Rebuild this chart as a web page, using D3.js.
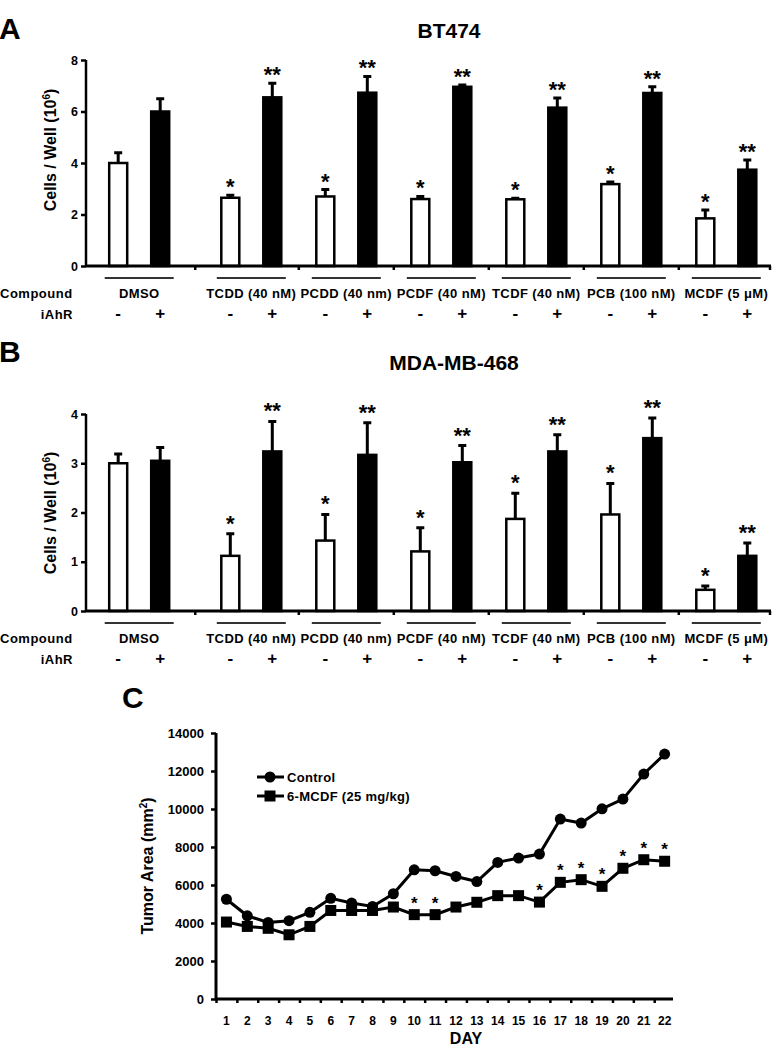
<!DOCTYPE html>
<html><head><meta charset="utf-8">
<script src="https://cdn.jsdelivr.net/npm/d3@7"></script>
<style>
body{margin:0;background:#fff}
svg{display:block}
text{font-family:"Liberation Sans",Arial,Helvetica,sans-serif;font-weight:bold;fill:#000}
</style>
</head><body>
<svg id="c" width="776" height="1050"></svg>
<script>
// ---------- data ----------
const compounds = ["DMSO","TCDD (40 nM)","PCDD (40 nm)","PCDF (40 nM)","TCDF (40 nM)","PCB (100 nM)","MCDF (5 \u03BCM)"];
const iahrLabels = ["-","+"];

const bt474Minus    = [4.00,2.65,2.70,2.60,2.59,3.18,1.85];
const bt474MinusErr = [0.40,0.10,0.27,0.10,0.04,0.08,0.32];
const bt474Plus     = [6.00,6.55,6.73,6.96,6.15,6.72,3.74];
const bt474PlusErr  = [0.50,0.55,0.63,0.07,0.37,0.24,0.38];
const bt474MinusSig = ["","*","*","*","*","*","*"];
const bt474PlusSig  = ["","**","**","**","**","**","**"];
const bt474Ticks    = [0,2,4,6,8];

const mdaMinus    = [3.00,1.12,1.43,1.21,1.87,1.96,0.43];
const mdaMinusErr = [0.19,0.45,0.53,0.48,0.52,0.63,0.08];
const mdaPlus     = [3.05,3.24,3.17,3.02,3.24,3.51,1.12];
const mdaPlusErr  = [0.27,0.61,0.65,0.34,0.34,0.41,0.26];
const mdaMinusSig = ["","*","*","*","*","*","*"];
const mdaPlusSig  = ["","**","**","**","**","**","**"];
const mdaTicks    = [0,1,2,3,4];

const days        = [1,2,3,4,5,6,7,8,9,10,11,12,13,14,15,16,17,18,19,20,21,22];
const controlArea = [5250,4380,4030,4120,4560,5300,5050,4870,5540,6800,6750,6450,6180,7190,7420,7630,9470,9260,10010,10520,11840,12890];
const mcdfArea    = [4050,3820,3720,3380,3820,4660,4660,4660,4840,4440,4440,4840,5090,5440,5440,5100,6140,6280,5930,6880,7330,7250];
const mcdfSig     = ["","","","","","","","","","*","*","","","","","*","*","*","*","*","*","*"];
const areaTicks   = [0,2000,4000,6000,8000,10000,12000,14000];
const seriesNames = ["Control","6-MCDF (25 mg/kg)"];

// ---------- drawing ----------
const svg = d3.select("#c");
svg.append("rect").attr("width",776).attr("height",1050).attr("fill","#fff");

// group slot: control group separated by an extra gap
const slot = i => i + (i > 0 ? 0.18 : 0);
const xg = d3.scaleLinear().domain([-0.56, 6.64]).range([86, 770]);
const pairOff = 21, barW = 18;

function barPanel(o){
  const g = svg.append("g");
  const y = d3.scaleLinear().domain([0, o.yMax]).range([o.y0, o.yTop]);
  // letter + title
  g.append("text").attr("x", -1).attr("y", o.letterY).attr("font-size", 30).text(o.letter);
  g.append("text").attr("x", o.titleX).attr("y", o.titleY).attr("text-anchor","middle")
    .attr("font-size", 21).text(o.title);
  // y label
  const yl = g.append("text").attr("transform", `translate(56,${o.labelMid}) rotate(-90)`)
    .attr("text-anchor","middle").attr("font-size", 16);
  yl.append("tspan").text("Cells / Well (10");
  yl.append("tspan").attr("font-size", 10).attr("dy", -6).text("6");
  yl.append("tspan").attr("dy", 6).text(")");
  // y axis
  const ya = g.append("g").attr("transform","translate(86,0)")
    .call(d3.axisLeft(y).tickValues(o.ticks).tickSize(5).tickPadding(3).tickFormat(d3.format("d")));
  ya.attr("font-family", null);
  ya.select(".domain").attr("stroke-width", 2.5).attr("d", `M0,${o.y0}V${o.yTop}`);
  ya.selectAll(".tick line").attr("stroke-width", 2.5);
  ya.selectAll(".tick text").attr("font-size", 12.5);

  // bars
  const sides = [
    {vals:o.minus, err:o.minusErr, sig:o.minusSig, off:-pairOff, fill:"#fff"},
    {vals:o.plus,  err:o.plusErr,  sig:o.plusSig,  off: pairOff, fill:"#000"}
  ];
  sides.forEach(s => {
    const cx = i => xg(slot(i)) + s.off;
    g.selectAll(null).data(s.vals).join("rect")
      .attr("x", (d,i) => cx(i) - barW/2).attr("width", barW)
      .attr("y", d => y(d)).attr("height", d => o.y0 - y(d))
      .attr("fill", s.fill).attr("stroke","#000").attr("stroke-width", 2.5);
    // error bars
    g.selectAll(null).data(s.vals).join("path")
      .attr("d", (d,i) => `M${cx(i)},${y(d)}V${y(d + s.err[i])}M${cx(i)-4},${y(d + s.err[i])}H${cx(i)+4}`)
      .attr("stroke","#000").attr("stroke-width", 3).attr("fill","none");
    // significance
    g.selectAll(null).data(s.vals).join("text")
      .attr("x", (d,i) => cx(i)).attr("y", (d,i) => y(d + s.err[i]) - o.starGap)
      .attr("text-anchor","middle").attr("font-size", 22)
      .text((d,i) => s.sig[i]);
    // iAhR signs
    g.selectAll(null).data(s.vals).join("text")
      .attr("x", (d,i) => cx(i)).attr("y", o.y0 + 53).attr("text-anchor","middle")
      .attr("font-size", 17).text(s.off < 0 ? iahrLabels[0] : iahrLabels[1]);
  });

  // x axis
  const bounds = d3.range(compounds.length - 1).map(i => (slot(i) + slot(i+1)) / 2);
  g.append("line").attr("x1", 86).attr("x2", 771).attr("y1", o.y0).attr("y2", o.y0)
    .attr("stroke","#000").attr("stroke-width", 3);
  g.selectAll(null).data(bounds).join("line")
    .attr("x1", d => xg(d)).attr("x2", d => xg(d)).attr("y1", o.y0).attr("y2", o.y0 + 4)
    .attr("stroke","#000").attr("stroke-width", 2.5);
  g.append("line").attr("x1", 770).attr("x2", 770).attr("y1", o.y0).attr("y2", o.y0 + 4)
    .attr("stroke","#000").attr("stroke-width", 2.5);

  // group underlines + labels
  g.selectAll(null).data(compounds).join("line")
    .attr("x1", (d,i) => xg(slot(i)) - 34.5).attr("x2", (d,i) => xg(slot(i)) + 34.5)
    .attr("y1", o.y0 + 12).attr("y2", o.y0 + 12).attr("stroke","#333").attr("stroke-width", 2);
  g.selectAll(null).data(compounds).join("text")
    .attr("x", (d,i) => xg(slot(i))).attr("y", o.y0 + 32).attr("text-anchor","middle")
    .attr("font-size", 13).attr("letter-spacing", 0.4).text(d => d);
  g.append("text").attr("x", 0).attr("y", o.y0 + 32).attr("font-size", 13)
    .attr("letter-spacing", 0.5).text("Compound");
  g.append("text").attr("x", 73).attr("y", o.y0 + 53).attr("text-anchor","end")
    .attr("font-size", 13).attr("letter-spacing", 0.5).text("iAhR");
}

barPanel({letter:"A", letterY:39, title:"BT474", titleX:449, titleY:38,
  y0:266, yTop:60, yMax:8, ticks:bt474Ticks, labelMid:150,
  minus:bt474Minus, minusErr:bt474MinusErr, plus:bt474Plus, plusErr:bt474PlusErr,
  minusSig:bt474MinusSig, plusSig:bt474PlusSig, starGap:1});

barPanel({letter:"B", letterY:362, title:"MDA-MB-468", titleX:454, titleY:370,
  y0:611, yTop:414, yMax:4, ticks:mdaTicks, labelMid:513,
  minus:mdaMinus, minusErr:mdaMinusErr, plus:mdaPlus, plusErr:mdaPlusErr,
  minusSig:mdaMinusSig, plusSig:mdaPlusSig, starGap:3});

// ---------- panel C ----------
(function(){
  const g = svg.append("g");
  const x = d3.scaleLinear().domain([0.5, 22.4]).range([216, 673]);
  const y = d3.scaleLinear().domain([0, 14000]).range([999, 733]);
  g.append("text").attr("x", 122).attr("y", 708).attr("font-size", 30).text("C");

  const ya = g.append("g").attr("transform","translate(216,0)")
    .call(d3.axisLeft(y).tickValues(areaTicks).tickSize(5).tickPadding(7).tickFormat(d3.format("d")));
  ya.attr("font-family", null);
  ya.select(".domain").attr("stroke-width", 3).attr("d", `M0,999V733`);
  ya.selectAll(".tick line").attr("stroke-width", 2.5);
  ya.selectAll(".tick text").attr("font-size", 13);

  const xa = g.append("g").attr("transform","translate(0,999)")
    .call(d3.axisBottom(x).tickValues(d3.range(0.5, 22.5, 1)).tickSize(4).tickFormat(""));
  xa.select(".domain").attr("stroke-width", 3).attr("d", "M216,0H673");
  xa.selectAll(".tick line").attr("stroke-width", 2.5);
  g.selectAll(null).data(days).join("text")
    .attr("x", d => x(d)).attr("y", 1025).attr("text-anchor","middle").attr("font-size", 12)
    .text(d => d);
  g.append("text").attr("x", 466).attr("y", 1044).attr("text-anchor","middle").attr("font-size", 16).text("DAY");

  const yl = g.append("text").attr("transform","translate(153,866) rotate(-90)")
    .attr("text-anchor","middle").attr("font-size", 16);
  yl.append("tspan").text("Tumor Area (mm");
  yl.append("tspan").attr("font-size", 10).attr("dy", -6).text("2");
  yl.append("tspan").attr("dy", 6).text(")");

  const line = d3.line().x((d,i) => x(days[i])).y(d => y(d));
  g.append("path").attr("d", line(controlArea)).attr("fill","none").attr("stroke","#000").attr("stroke-width", 3);
  g.append("path").attr("d", line(mcdfArea)).attr("fill","none").attr("stroke","#000").attr("stroke-width", 3);
  g.selectAll(null).data(controlArea).join("circle")
    .attr("cx", (d,i) => x(days[i])).attr("cy", d => y(d)).attr("r", 5.5).attr("fill","#000");
  g.selectAll(null).data(mcdfArea).join("rect")
    .attr("x", (d,i) => x(days[i]) - 5.5).attr("y", d => y(d) - 5.5)
    .attr("width", 11).attr("height", 11).attr("fill","#000");
  g.selectAll(null).data(mcdfArea).join("text")
    .attr("x", (d,i) => x(days[i])).attr("y", d => y(d) - 6).attr("text-anchor","middle")
    .attr("font-size", 17).attr("font-weight","normal").text((d,i) => mcdfSig[i]);

  // legend
  const ly = [777, 796];
  ly.forEach((yy, k) => {
    g.append("line").attr("x1", 257).attr("x2", 284).attr("y1", yy).attr("y2", yy)
      .attr("stroke","#000").attr("stroke-width", 3);
    if (k === 0) g.append("circle").attr("cx", 270).attr("cy", yy).attr("r", 5.5).attr("fill","#000");
    else g.append("rect").attr("x", 264.5).attr("y", yy - 5.5).attr("width", 11).attr("height", 11).attr("fill","#000");
    g.append("text").attr("x", 287).attr("y", yy + 5).attr("font-size", 13).attr("letter-spacing", 0.3)
      .text(seriesNames[k]);
  });
})();
</script>
</body></html>
